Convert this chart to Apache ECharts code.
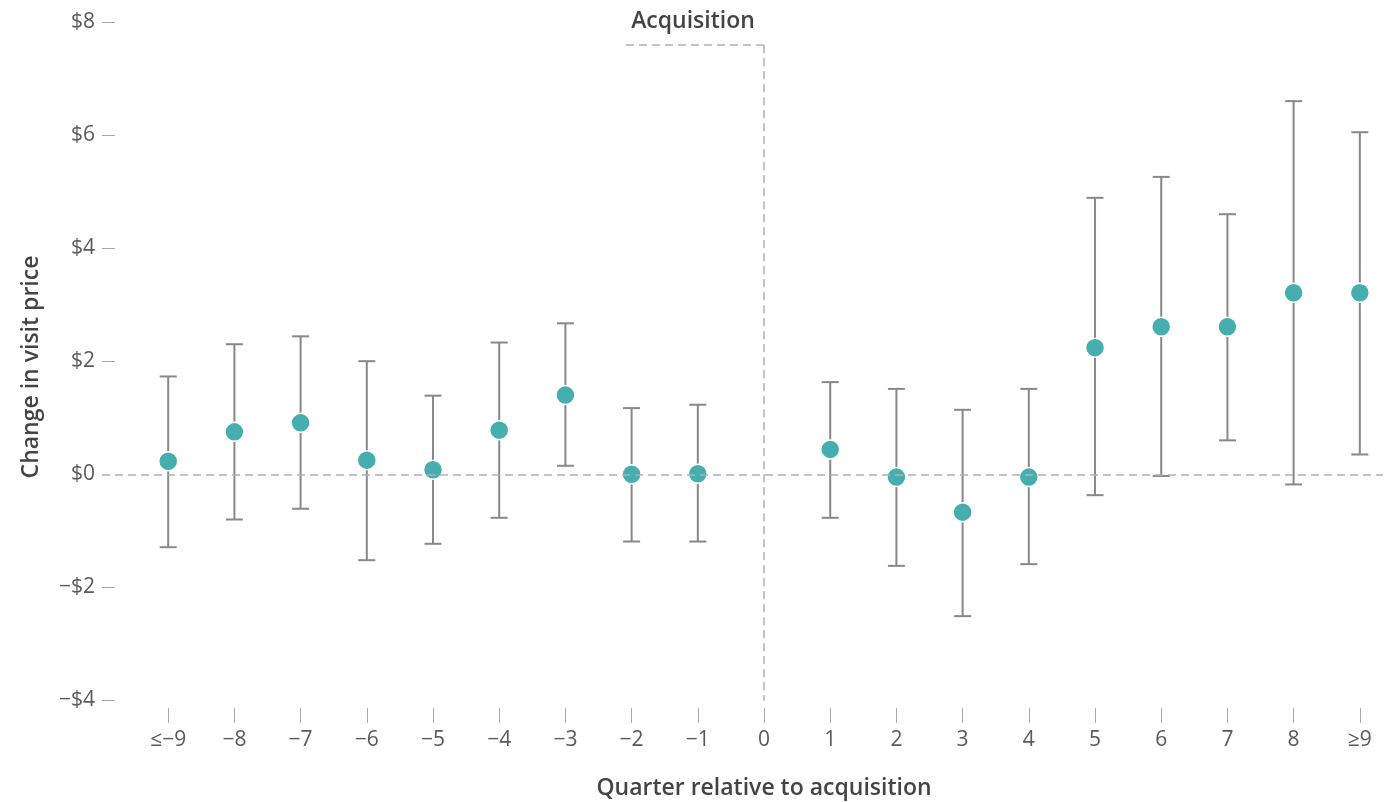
<!DOCTYPE html>
<html>
<head>
<meta charset="utf-8">
<script src="https://cdn.jsdelivr.net/npm/echarts@6/dist/echarts.min.js"></script>
<style>
html,body{margin:0;padding:0;background:#ffffff;}
#chart{width:1390px;height:802px;}
</style>
</head>
<body>
<div id="chart"></div>
<script>
// ---- data ----
const quarters = ['≤−9','−8','−7','−6','−5','−4','−3','−2','−1','0','1','2','3','4','5','6','7','8','≥9'];
const quarterPos = [-9,-8,-7,-6,-5,-4,-3,-2,-1,0,1,2,3,4,5,6,7,8,9];
const estimate = [0.23,0.75,0.91,0.25,0.08,0.78,1.40,0.00,0.01,null,0.44,-0.05,-0.67,-0.05,2.24,2.61,2.61,3.21,3.21];
const upper    = [1.73,2.30,2.44,2.00,1.39,2.33,2.67,1.17,1.23,null,1.63,1.51,1.14,1.51,4.89,5.26,4.60,6.60,6.05];
const lower    = [-1.29,-0.80,-0.61,-1.52,-1.23,-0.77,0.15,-1.19,-1.19,null,-0.77,-1.62,-2.51,-1.59,-0.37,-0.03,0.60,-0.18,0.35];
const yTicks = [-4,-2,0,2,4,6,8];
const yTickLabels = ['−$4','−$2','$0','$2','$4','$6','$8'];
const acquisitionQuarter = 0;

// ---- build ----
const pointData = [];
const barData = [];
quarterPos.forEach((q, i) => {
  if (estimate[i] === null) return;
  pointData.push([q, estimate[i]]);
  barData.push([q, lower[i], upper[i]]);
});

const dashColor = '#b0b0b4';
const fontFamily = '"Open Sans", "Noto Sans", sans-serif';

const chart = echarts.init(document.getElementById('chart'), null, {renderer: 'canvas'});
chart.setOption({
  animation: false,
  backgroundColor: '#ffffff',
  grid: {left: 102, right: 7, top: 22, bottom: 79, containLabel: false, outerBoundsMode: 'none'},
  xAxis: {
    type: 'value', min: -10, max: 9.35,
    axisLine: {show: false, onZero: false},
    splitLine: {show: false},
    axisTick: {show: true, inside: true, length: 15, customValues: quarterPos, lineStyle: {color: '#aaaaaa', width: 1}},
    axisLabel: {
      customValues: quarterPos,
      formatter: v => quarters[quarterPos.indexOf(Math.round(v))],
      margin: 7, fontSize: 21, color: '#5a5a5a', fontFamily: fontFamily
    }
  },
  yAxis: {
    type: 'value', min: -4.4, max: 8,
    axisLine: {show: false, onZero: false},
    splitLine: {show: false},
    axisTick: {show: true, inside: true, length: 13, customValues: yTicks.filter(v => v !== 0), lineStyle: {color: '#aaaaaa', width: 1}},
    axisLabel: {
      customValues: yTicks,
      formatter: v => yTickLabels[yTicks.indexOf(Math.round(v))],
      margin: 7, fontSize: 21, color: '#5a5a5a', fontFamily: fontFamily
    }
  },
  graphic: [
    {type: 'text', x: 693, y: 21, z: 100, style: {text: 'Acquisition', font: '600 23px ' + fontFamily, fill: '#444444', align: 'center', verticalAlign: 'middle'}},
    {type: 'text', x: 764, y: 788, z: 100, style: {text: 'Quarter relative to acquisition', font: '600 23px ' + fontFamily, fill: '#444444', align: 'center', verticalAlign: 'middle'}},
    {type: 'text', x: 31, y: 367, rotation: Math.PI / 2, z: 100, style: {text: 'Change in visit price', font: '600 23px ' + fontFamily, fill: '#444444', align: 'center', verticalAlign: 'middle'}}
  ],
  series: [
    {
      type: 'custom',
      z: 2,
      data: barData,
      renderItem: function (params, api) {
        const x = api.value(0), lo = api.value(1), hi = api.value(2);
        const top = api.coord([x, hi]);
        const bot = api.coord([x, lo]);
        const w = 8.5;
        const st = {stroke: '#888888', lineWidth: 2};
        return {type: 'group', children: [
          {type: 'line', shape: {x1: top[0], y1: top[1], x2: bot[0], y2: bot[1]}, style: st},
          {type: 'line', shape: {x1: top[0] - w, y1: top[1], x2: top[0] + w, y2: top[1]}, style: st},
          {type: 'line', shape: {x1: bot[0] - w, y1: bot[1], x2: bot[0] + w, y2: bot[1]}, style: st}
        ]};
      }
    },
    {
      type: 'scatter',
      z: 3,
      data: pointData,
      symbolSize: 19,
      itemStyle: {color: '#46aeae', borderColor: '#ffffff', borderWidth: 1.5, opacity: 1},
      markLine: {
        silent: true,
        symbol: 'none',
        label: {show: false},
        lineStyle: {color: dashColor, width: 1.5, type: [8, 5]},
        data: [
          {yAxis: 0},
          [{coord: [acquisitionQuarter, 7.59]}, {coord: [acquisitionQuarter, -4]}],
          [{coord: [-2.085, 7.59]}, {coord: [acquisitionQuarter, 7.59]}]
        ]
      }
    }
  ]
});
</script>
</body>
</html>
